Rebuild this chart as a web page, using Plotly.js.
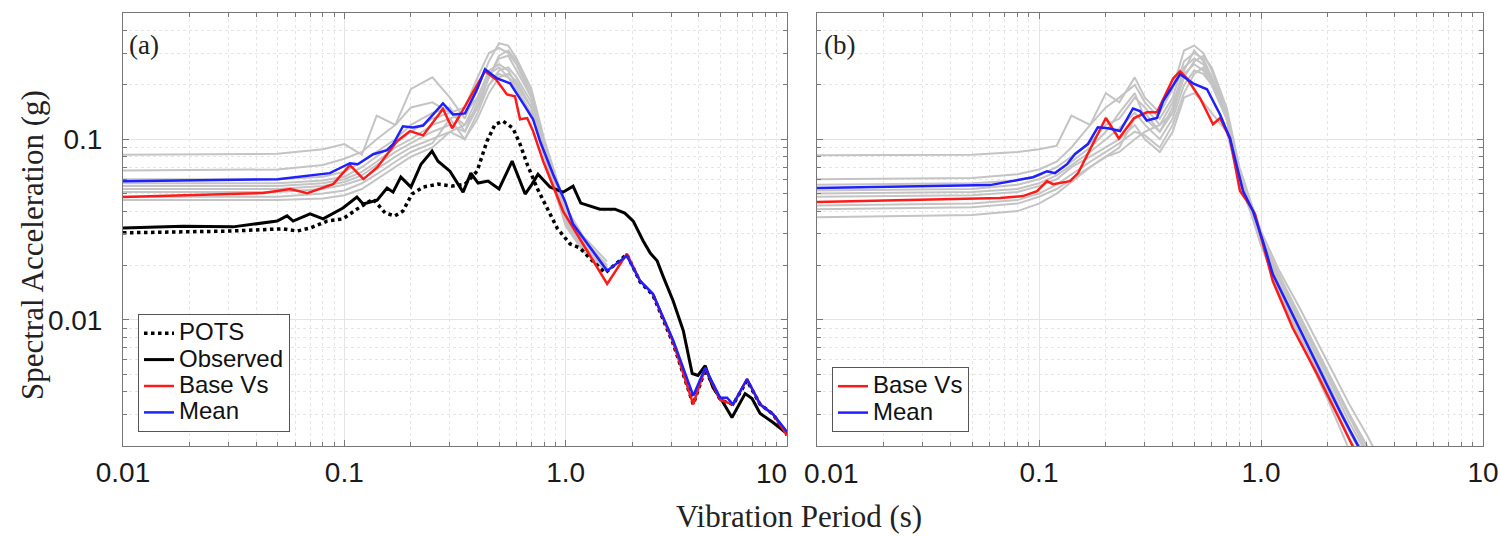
<!DOCTYPE html>
<html>
<head>
<meta charset="utf-8">
<script src="https://cdn.plot.ly/plotly-3.0.1.min.js"></script>
<style>html,body{margin:0;padding:0;background:#fff;}#chart{width:1501px;height:536px;}</style>
</head>
<body>
<div id="chart"></div>
<script>
// ---------- Panel (a) ----------
const meanT_a  = [0.01, 0.05, 0.086, 0.106, 0.115, 0.135, 0.156, 0.166, 0.184, 0.204, 0.227, 0.279, 0.31, 0.351, 0.398, 0.432, 0.49, 0.561, 0.642, 0.712, 0.766, 0.877, 0.993, 1.08, 1.54, 1.89, 2.17, 2.48, 3.06, 3.77, 4.27, 4.99, 5.36, 5.71, 6.6, 7.56, 8.65, 10];
const meanSa_a = [0.0586, 0.060, 0.0649, 0.0736, 0.0727, 0.0826, 0.0869, 0.0938, 0.118, 0.116, 0.119, 0.158, 0.137, 0.139, 0.189, 0.244, 0.217, 0.204, 0.158, 0.129, 0.0975, 0.064, 0.0454, 0.0339, 0.0187, 0.0226, 0.0164, 0.0139, 0.0077, 0.0038, 0.0054, 0.0037, 0.0037, 0.0034, 0.0047, 0.0034, 0.0030, 0.0024];

const baseT_a  = [0.01, 0.043, 0.057, 0.068, 0.089, 0.106, 0.122, 0.141, 0.173, 0.198, 0.227, 0.279, 0.307, 0.333, 0.432, 0.485, 0.543, 0.59, 0.622, 0.67, 0.712, 0.791, 0.973, 1.2, 1.54, 1.89, 2.17, 2.48, 3.06, 3.77, 4.27, 4.99, 5.71, 6.6, 7.56, 8.65, 10];
const baseSa_a = [0.0478, 0.0503, 0.053, 0.0503, 0.0564, 0.0718, 0.0601, 0.070, 0.0975, 0.111, 0.105, 0.147, 0.115, 0.136, 0.238, 0.214, 0.177, 0.173, 0.129, 0.131, 0.111, 0.0756, 0.040, 0.0263, 0.0158, 0.0232, 0.0164, 0.0139, 0.0075, 0.0034, 0.0054, 0.0036, 0.0034, 0.0047, 0.0034, 0.0030, 0.0023];

const obsT  = [0.01, 0.0187, 0.0314, 0.0497, 0.0551, 0.0587, 0.070, 0.0802, 0.0986, 0.114, 0.1216, 0.1406, 0.156, 0.166, 0.180, 0.200, 0.222, 0.249, 0.265, 0.30, 0.344, 0.373, 0.402, 0.446, 0.50, 0.573, 0.656, 0.705, 0.75, 0.849, 0.973, 1.08, 1.17, 1.43, 1.67, 1.85, 2.02, 2.24, 2.41, 2.59, 2.75, 3.06, 3.40, 3.73, 3.96, 4.27, 4.63, 5.09, 5.64, 6.47, 6.95, 7.56, 8.65, 10];
const obsSa = [0.0322, 0.033, 0.0327, 0.0352, 0.0376, 0.0352, 0.0386, 0.0362, 0.0416, 0.0478, 0.0438, 0.046, 0.0536, 0.0509, 0.0617, 0.0543, 0.0727, 0.0859, 0.0756, 0.0665, 0.0509, 0.0649, 0.0572, 0.0586, 0.053, 0.0756, 0.0497, 0.0564, 0.064, 0.0543, 0.0509, 0.055, 0.0443, 0.041, 0.041, 0.039, 0.0352, 0.0273, 0.0234, 0.0212, 0.0175, 0.0127, 0.0087, 0.00504, 0.00492, 0.00557, 0.00421, 0.00356, 0.00288, 0.0039, 0.00366, 0.00303, 0.0027, 0.00234];

const potsT  = [0.01, 0.0304, 0.0528, 0.0611, 0.070, 0.0836, 0.0986, 0.114, 0.135, 0.153, 0.169, 0.184, 0.202, 0.227, 0.265, 0.307, 0.351, 0.398, 0.441, 0.480, 0.521, 0.578, 0.622, 0.67, 0.743, 0.824, 0.915, 1.047, 1.16, 1.33, 1.51, 1.89, 2.17, 2.48, 3.06, 3.77, 4.27, 4.99, 5.71, 6.6, 7.56, 8.65, 10];
const potsSa = [0.0303, 0.031, 0.0319, 0.031, 0.0322, 0.0352, 0.0362, 0.041, 0.0466, 0.039, 0.0376, 0.040, 0.0497, 0.0543, 0.0564, 0.055, 0.0564, 0.0665, 0.0975, 0.121, 0.126, 0.115, 0.094, 0.0727, 0.0536, 0.0416, 0.0322, 0.0263, 0.025, 0.021, 0.0182, 0.0230, 0.0162, 0.0137, 0.0074, 0.0034, 0.0053, 0.0036, 0.0034, 0.0046, 0.0034, 0.0030, 0.0023];

const grayT_a = [0.01, 0.05, 0.08, 0.1, 0.12, 0.14, 0.17, 0.2, 0.25, 0.3, 0.35, 0.4, 0.45, 0.5, 0.55, 0.6, 0.7, 0.8, 1.0, 1.2, 1.54];
const grayA1 = [0.082, 0.083, 0.088, 0.094, 0.082, 0.135, 0.12, 0.15, 0.16, 0.14, 0.15, 0.22, 0.30, 0.32, 0.30, 0.26, 0.17, 0.09, 0.040, 0.028, 0.020];
const grayA2 = [0.067, 0.068, 0.072, 0.078, 0.085, 0.10, 0.12, 0.19, 0.22, 0.17, 0.13, 0.19, 0.27, 0.34, 0.33, 0.28, 0.19, 0.10, 0.042, 0.029, 0.021];
const grayA3 = [0.060, 0.060, 0.062, 0.066, 0.075, 0.085, 0.10, 0.12, 0.14, 0.15, 0.11, 0.15, 0.22, 0.29, 0.31, 0.27, 0.18, 0.095, 0.038, 0.027, 0.0195];
const grayA4 = [0.057, 0.057, 0.059, 0.062, 0.070, 0.080, 0.095, 0.11, 0.13, 0.14, 0.12, 0.17, 0.24, 0.26, 0.24, 0.20, 0.15, 0.09, 0.036, 0.026, 0.019];
const grayA5 = [0.055, 0.055, 0.057, 0.060, 0.066, 0.075, 0.09, 0.10, 0.12, 0.13, 0.10, 0.14, 0.20, 0.24, 0.25, 0.22, 0.16, 0.085, 0.035, 0.025, 0.019];
const grayA6 = [0.053, 0.053, 0.055, 0.058, 0.063, 0.072, 0.085, 0.095, 0.11, 0.12, 0.11, 0.16, 0.22, 0.28, 0.29, 0.24, 0.17, 0.09, 0.037, 0.026, 0.0195];
const grayA7 = [0.051, 0.051, 0.053, 0.056, 0.060, 0.068, 0.08, 0.09, 0.10, 0.11, 0.10, 0.13, 0.18, 0.22, 0.23, 0.21, 0.15, 0.085, 0.034, 0.025, 0.0185];
const grayA8 = [0.048, 0.048, 0.050, 0.052, 0.057, 0.064, 0.075, 0.085, 0.095, 0.13, 0.14, 0.17, 0.23, 0.25, 0.22, 0.19, 0.14, 0.08, 0.033, 0.024, 0.0185];
const grayA9 = [0.046, 0.046, 0.047, 0.049, 0.053, 0.060, 0.07, 0.08, 0.09, 0.11, 0.12, 0.15, 0.20, 0.23, 0.22, 0.20, 0.15, 0.085, 0.035, 0.025, 0.019];

// ---------- Panel (b) ----------
const meanT_b  = [0.01, 0.0601, 0.094, 0.1087, 0.118, 0.1337, 0.145, 0.166, 0.184, 0.205, 0.232, 0.265, 0.285, 0.306, 0.34, 0.362, 0.432, 0.494, 0.571, 0.654, 0.725, 0.78, 0.83, 0.92, 1.02, 1.13, 1.45, 1.85, 2.27, 2.74, 3.0];
const meanSa_b = [0.0536, 0.0557, 0.0616, 0.0665, 0.0649, 0.0727, 0.0826, 0.094, 0.1165, 0.115, 0.111, 0.148, 0.143, 0.127, 0.131, 0.162, 0.229, 0.204, 0.189, 0.137, 0.101, 0.0692, 0.0517, 0.040, 0.0273, 0.0179, 0.0095, 0.0052, 0.0031, 0.0020, 0.0016];

const baseT_b  = [0.01, 0.0667, 0.0847, 0.098, 0.1087, 0.1156, 0.138, 0.150, 0.170, 0.200, 0.229, 0.268, 0.306, 0.34, 0.402, 0.432, 0.464, 0.531, 0.608, 0.654, 0.725, 0.804, 0.865, 0.94, 1.02, 1.13, 1.39, 1.79, 2.20, 2.59, 2.9];
const baseSa_b = [0.0449, 0.0472, 0.0484, 0.0516, 0.0586, 0.0564, 0.0586, 0.0649, 0.088, 0.131, 0.101, 0.131, 0.141, 0.141, 0.217, 0.238, 0.217, 0.169, 0.121, 0.131, 0.101, 0.0517, 0.0454, 0.0385, 0.0263, 0.0164, 0.0090, 0.0050, 0.0030, 0.0020, 0.0015];

const grayT_b = [0.01, 0.05, 0.08, 0.1, 0.12, 0.14, 0.17, 0.2, 0.23, 0.27, 0.3, 0.35, 0.4, 0.45, 0.5, 0.55, 0.6, 0.7, 0.8, 0.9, 1.0, 1.2, 1.5, 2.0, 2.5, 3.0, 3.5];
const grayB1 = [0.0815, 0.082, 0.085, 0.088, 0.092, 0.135, 0.12, 0.18, 0.16, 0.22, 0.17, 0.14, 0.19, 0.31, 0.33, 0.30, 0.24, 0.14, 0.065, 0.042, 0.029, 0.018, 0.0105, 0.0052, 0.0030, 0.0020, 0.0014];
const grayB2 = [0.060, 0.061, 0.064, 0.068, 0.075, 0.09, 0.12, 0.15, 0.17, 0.20, 0.16, 0.13, 0.17, 0.27, 0.30, 0.28, 0.22, 0.13, 0.060, 0.041, 0.028, 0.017, 0.0095, 0.0048, 0.0027, 0.0018, 0.0012];
const grayB3 = [0.056, 0.057, 0.059, 0.063, 0.070, 0.08, 0.095, 0.12, 0.13, 0.17, 0.15, 0.12, 0.14, 0.22, 0.27, 0.29, 0.25, 0.15, 0.070, 0.045, 0.031, 0.019, 0.0115, 0.0058, 0.0034, 0.0023, 0.0016];
const grayB4 = [0.050, 0.051, 0.053, 0.057, 0.063, 0.072, 0.085, 0.10, 0.115, 0.14, 0.12, 0.10, 0.13, 0.20, 0.24, 0.23, 0.20, 0.13, 0.060, 0.040, 0.027, 0.016, 0.0090, 0.0045, 0.0025, 0.0017, 0.0011];
const grayB5 = [0.048, 0.049, 0.051, 0.055, 0.060, 0.07, 0.08, 0.09, 0.10, 0.12, 0.10, 0.085, 0.11, 0.17, 0.18, 0.16, 0.14, 0.11, 0.058, 0.039, 0.026, 0.015, 0.0082, 0.0040, 0.0022, 0.0015, 0.0010];
const grayB6 = [0.043, 0.044, 0.046, 0.050, 0.056, 0.064, 0.075, 0.085, 0.095, 0.11, 0.105, 0.09, 0.12, 0.18, 0.23, 0.25, 0.21, 0.14, 0.065, 0.042, 0.029, 0.017, 0.0100, 0.0050, 0.0029, 0.0019, 0.0013];
const grayB7 = [0.041, 0.042, 0.044, 0.048, 0.053, 0.06, 0.07, 0.08, 0.09, 0.13, 0.14, 0.11, 0.15, 0.25, 0.28, 0.26, 0.22, 0.14, 0.062, 0.040, 0.026, 0.0145, 0.0078, 0.0036, 0.0019, 0.0012, 0.0008];
const grayB8 = [0.037, 0.038, 0.040, 0.044, 0.050, 0.058, 0.07, 0.08, 0.085, 0.10, 0.11, 0.12, 0.16, 0.23, 0.26, 0.24, 0.20, 0.13, 0.060, 0.040, 0.027, 0.016, 0.0088, 0.0043, 0.0024, 0.0016, 0.0011];
const grayB9 = [0.052, 0.053, 0.056, 0.060, 0.066, 0.075, 0.09, 0.11, 0.14, 0.18, 0.13, 0.11, 0.14, 0.24, 0.31, 0.27, 0.21, 0.13, 0.063, 0.041, 0.028, 0.017, 0.0100, 0.0051, 0.0030, 0.0020, 0.0014];

// ---------- Tick labels ----------
const xTickVals = [0.01, 0.1, 1, 10];
const xTickText_a = ['0.01', '0.1', '1.0', ''];   // '10' of (a) drawn as a nudged label below
const xTickText_b = ['', '0.1', '1.0', '10'];     // '0.01' of (b) drawn as a nudged label below
const edgeLabelA = '10';
const edgeLabelB = '0.01';
const yTickVals = [0.01, 0.1];
const yTickText = ['0.01', '0.1'];

const grayA = [grayA1, grayA2, grayA3, grayA4, grayA5, grayA6, grayA7, grayA8, grayA9];
const grayB = [grayB1, grayB2, grayB3, grayB4, grayB5, grayB6, grayB7, grayB8, grayB9];

const GRAY = '#c4c4c4', RED = '#ff1a1a', BLUE = '#1f1fff';
const lg = s => '<span style="font-size:24px">' + s + '</span>';
const traces = [];
grayA.forEach(g => traces.push({x: grayT_a, y: g, xaxis: 'x', yaxis: 'y', mode: 'lines', line: {color: GRAY, width: 2}, showlegend: false, hoverinfo: 'skip'}));
grayB.forEach(g => traces.push({x: grayT_b, y: g, xaxis: 'x2', yaxis: 'y2', mode: 'lines', line: {color: GRAY, width: 2}, showlegend: false, hoverinfo: 'skip'}));

traces.push({x: potsT, y: potsSa, xaxis: 'x', yaxis: 'y', mode: 'lines', name: lg('POTS'), line: {color: '#000', width: 3.5, dash: 'dot'}, legend: 'legend'});
traces.push({x: obsT, y: obsSa, xaxis: 'x', yaxis: 'y', mode: 'lines', name: lg('Observed'), line: {color: '#000', width: 3}, legend: 'legend'});
traces.push({x: baseT_a, y: baseSa_a, xaxis: 'x', yaxis: 'y', mode: 'lines', name: lg('Base Vs'), line: {color: RED, width: 2.5}, legend: 'legend'});
traces.push({x: meanT_a, y: meanSa_a, xaxis: 'x', yaxis: 'y', mode: 'lines', name: lg('Mean'), line: {color: BLUE, width: 2.5}, legend: 'legend'});
traces.push({x: baseT_b, y: baseSa_b, xaxis: 'x2', yaxis: 'y2', mode: 'lines', name: lg('Base Vs'), line: {color: RED, width: 2.5}, legend: 'legend2'});
traces.push({x: meanT_b, y: meanSa_b, xaxis: 'x2', yaxis: 'y2', mode: 'lines', name: lg('Mean'), line: {color: BLUE, width: 2.5}, legend: 'legend2'});

const W = 1501, H = 536;
const minorX = [0.02,0.03,0.04,0.05,0.06,0.07,0.08,0.09,0.2,0.3,0.4,0.5,0.6,0.7,0.8,0.9,2,3,4,5,6,7,8,9];
const minorY = [0.003,0.004,0.005,0.006,0.007,0.008,0.009,0.02,0.03,0.04,0.05,0.06,0.07,0.08,0.09,0.2,0.3,0.4];
const tickFont = {family: 'Liberation Sans, Arial, sans-serif', size: 28, color: '#1a1a1a'};

function xax(d0, d1, anchor, ticktext) {
  return {
    type: 'log', domain: [d0, d1], range: [-2, 1], anchor: anchor,
    tickmode: 'array', tickvals: xTickVals, ticktext: ticktext,
    ticks: 'inside', ticklen: 6, tickcolor: '#777', tickwidth: 1,
    showline: true, linecolor: '#777', linewidth: 1, mirror: 'ticks',
    showgrid: true, gridcolor: '#e4e4e4', gridwidth: 1,
    minor: {tickmode: 'array', tickvals: minorX, ticks: 'inside', ticklen: 4, tickcolor: '#777', showgrid: true, gridcolor: '#e6e6e6', griddash: 'dot'},
    tickfont: tickFont, ticklabelstandoff: 1, zeroline: false, fixedrange: true
  };
}
function yax(anchor, labels) {
  return {
    type: 'log', domain: [1 - 446 / H, 1 - 13 / H], range: [Math.log10(0.002), Math.log10(0.5)], anchor: anchor,
    tickmode: 'array', tickvals: yTickVals, ticktext: yTickText, showticklabels: labels,
    ticks: 'inside', ticklen: 6, tickcolor: '#777', tickwidth: 1,
    showline: true, linecolor: '#777', linewidth: 1, mirror: 'ticks',
    showgrid: true, gridcolor: '#e4e4e4', gridwidth: 1,
    minor: {tickmode: 'array', tickvals: minorY, ticks: 'inside', ticklen: 4, tickcolor: '#777', showgrid: true, gridcolor: '#e6e6e6', griddash: 'dot'},
    tickfont: tickFont, ticklabelstandoff: 14, zeroline: false, fixedrange: true
  };
}

const legendFont = {family: 'Liberation Sans, Arial, sans-serif', size: 18, color: '#111'};
const serif = 'Liberation Serif, Times New Roman, serif';
const layout = {
  width: W, height: H,
  margin: {l: 0, r: 0, t: 0, b: 0},
  paper_bgcolor: '#fff', plot_bgcolor: '#fff',
  xaxis: xax(123 / W, 787 / W, 'y', xTickText_a),
  yaxis: yax('x', true),
  xaxis2: xax(817 / W, 1483 / W, 'y2', xTickText_b),
  yaxis2: yax('x2', false),
  legend: {x: 138 / W, y: 1 - 432 / H, xanchor: 'left', yanchor: 'bottom', bgcolor: '#fff', bordercolor: '#555', borderwidth: 1, font: legendFont, tracegroupgap: 0, itemwidth: 30},
  legend2: {x: 832 / W, y: 1 - 432 / H, xanchor: 'left', yanchor: 'bottom', bgcolor: '#fff', bordercolor: '#555', borderwidth: 1, font: legendFont, tracegroupgap: 0, itemwidth: 30},
  annotations: [
    {text: edgeLabelA, xref: 'paper', yref: 'paper', x: 789 / W, y: 1 - 473 / H, xanchor: 'right', yanchor: 'middle', showarrow: false, font: tickFont},
    {text: edgeLabelB, xref: 'paper', yref: 'paper', x: 802 / W, y: 1 - 473 / H, xanchor: 'left', yanchor: 'middle', showarrow: false, font: tickFont},
    {text: '(a)', xref: 'paper', yref: 'paper', x: 127 / W, y: 1 - 45 / H, xanchor: 'left', yanchor: 'middle', showarrow: false, font: {family: serif, size: 27, color: '#222'}},
    {text: '(b)', xref: 'paper', yref: 'paper', x: 822 / W, y: 1 - 45 / H, xanchor: 'left', yanchor: 'middle', showarrow: false, font: {family: serif, size: 27, color: '#222'}},
    {text: 'Vibration Period (s)', xref: 'paper', yref: 'paper', x: 799 / W, y: 1 - 516 / H, xanchor: 'center', yanchor: 'middle', showarrow: false, font: {family: serif, size: 31, color: '#222'}},
    {text: 'Spectral Acceleration (g)', xref: 'paper', yref: 'paper', x: 32 / W, y: 1 - 245 / H, xanchor: 'center', yanchor: 'middle', textangle: -90, showarrow: false, font: {family: serif, size: 31, color: '#222'}}
  ],
  showlegend: true
};

Plotly.newPlot('chart', traces, layout, {staticPlot: true, displayModeBar: false});
</script>
</body>
</html>
